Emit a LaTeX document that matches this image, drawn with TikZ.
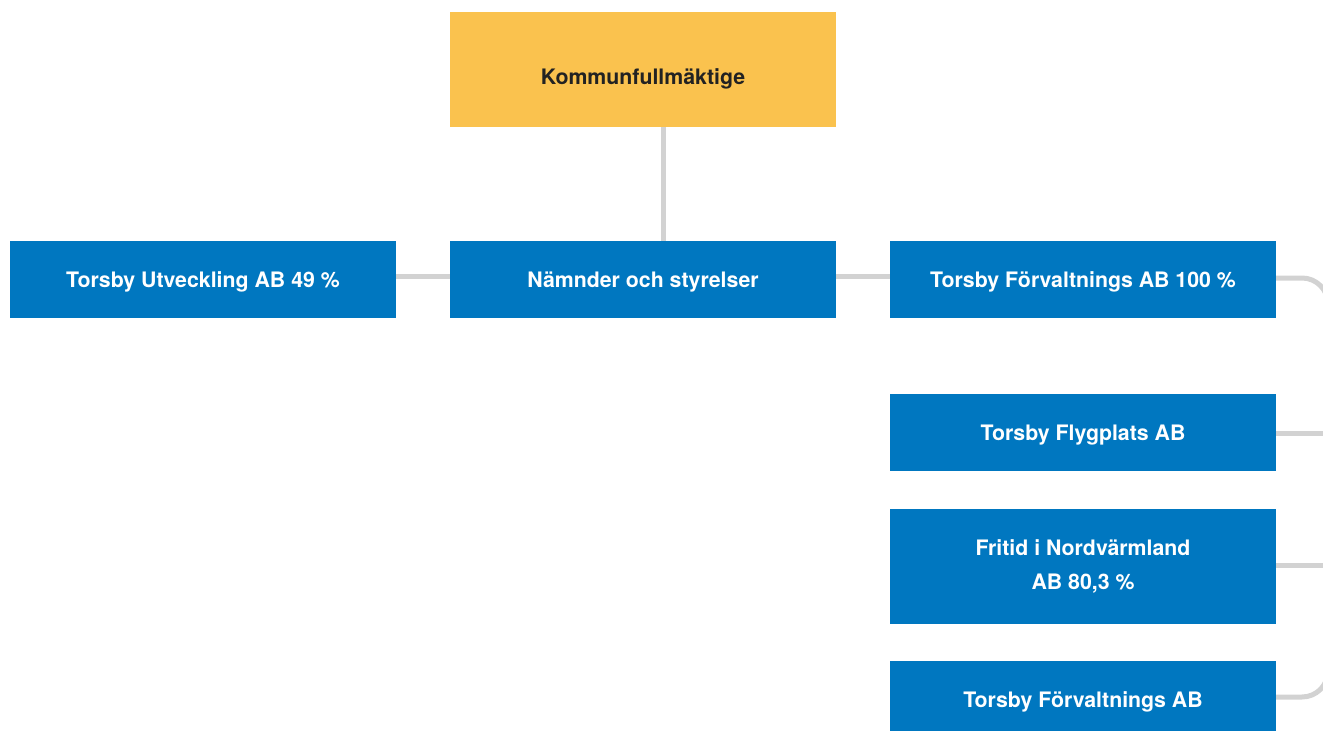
\documentclass[tikz,border=0pt]{standalone}
\usepackage{fontspec}
\setmainfont{TeX Gyre Heros}
\definecolor{boxblue}{HTML}{0077C0}
\definecolor{boxyellow}{HTML}{FAC24E}
\definecolor{linegray}{HTML}{D2D2D2}
\definecolor{darktext}{HTML}{222222}
\begin{document}
\begin{tikzpicture}[x=1pt,y=-1pt,
  orgbox/.style={rectangle,inner sep=0pt,minimum width=386pt,fill=boxblue,text=white,
    font=\fontsize{21.3}{34}\selectfont\bfseries,align=center},
  oneline/.style={orgbox,minimum height=77pt,text height=16.2pt,text depth=0pt},
  conn/.style={draw=linegray,line width=5pt,rounded corners=26pt}]
\useasboundingbox (0,0) rectangle (1323,731);
\node[orgbox,fill=boxyellow,text=darktext,minimum height=115pt,text height=30.2pt,text depth=0pt] (kf) at (643,69.5) {Kommunfullmäktige};
\node[oneline] (tu) at (203,279.5) {Torsby Utveckling AB 49 \%};
\node[oneline] (ns) at (643,279.5) {Nämnder och styrelser};
\node[oneline] (tf) at (1083,279.5) {Torsby Förvaltnings AB 100 \%};
\node[oneline] (fp) at (1083,432.5) {Torsby Flygplats AB};
\node[orgbox,minimum height=115pt] (fn) at (1083,566.5) {Fritid i Nordvärmland\\AB 80,3 \%};
\node[oneline] (tf2) at (1083,699.5) {Torsby Förvaltnings AB};
\coordinate (kfb) at (663,127);
\coordinate (nst) at (663,241);
\coordinate (rtop) at (1328,278);
\coordinate (rbot) at (1328,697);
\coordinate (rm1) at (1330,433);
\coordinate (rm2) at (1330,565);
\draw[conn] (kfb) -- (nst);
\draw[conn] (tu.east |- 0,276) -- (ns.west |- 0,276);
\draw[conn] (ns.east |- 0,276) -- (tf.west |- 0,276);
\draw[conn] (tf.east |- rtop) -- (rtop) -- (rbot) -- (tf2.east |- rbot);
\draw[conn] (fp.east |- rm1) -- (rm1);
\draw[conn] (fn.east |- rm2) -- (rm2);
\end{tikzpicture}
\end{document}
